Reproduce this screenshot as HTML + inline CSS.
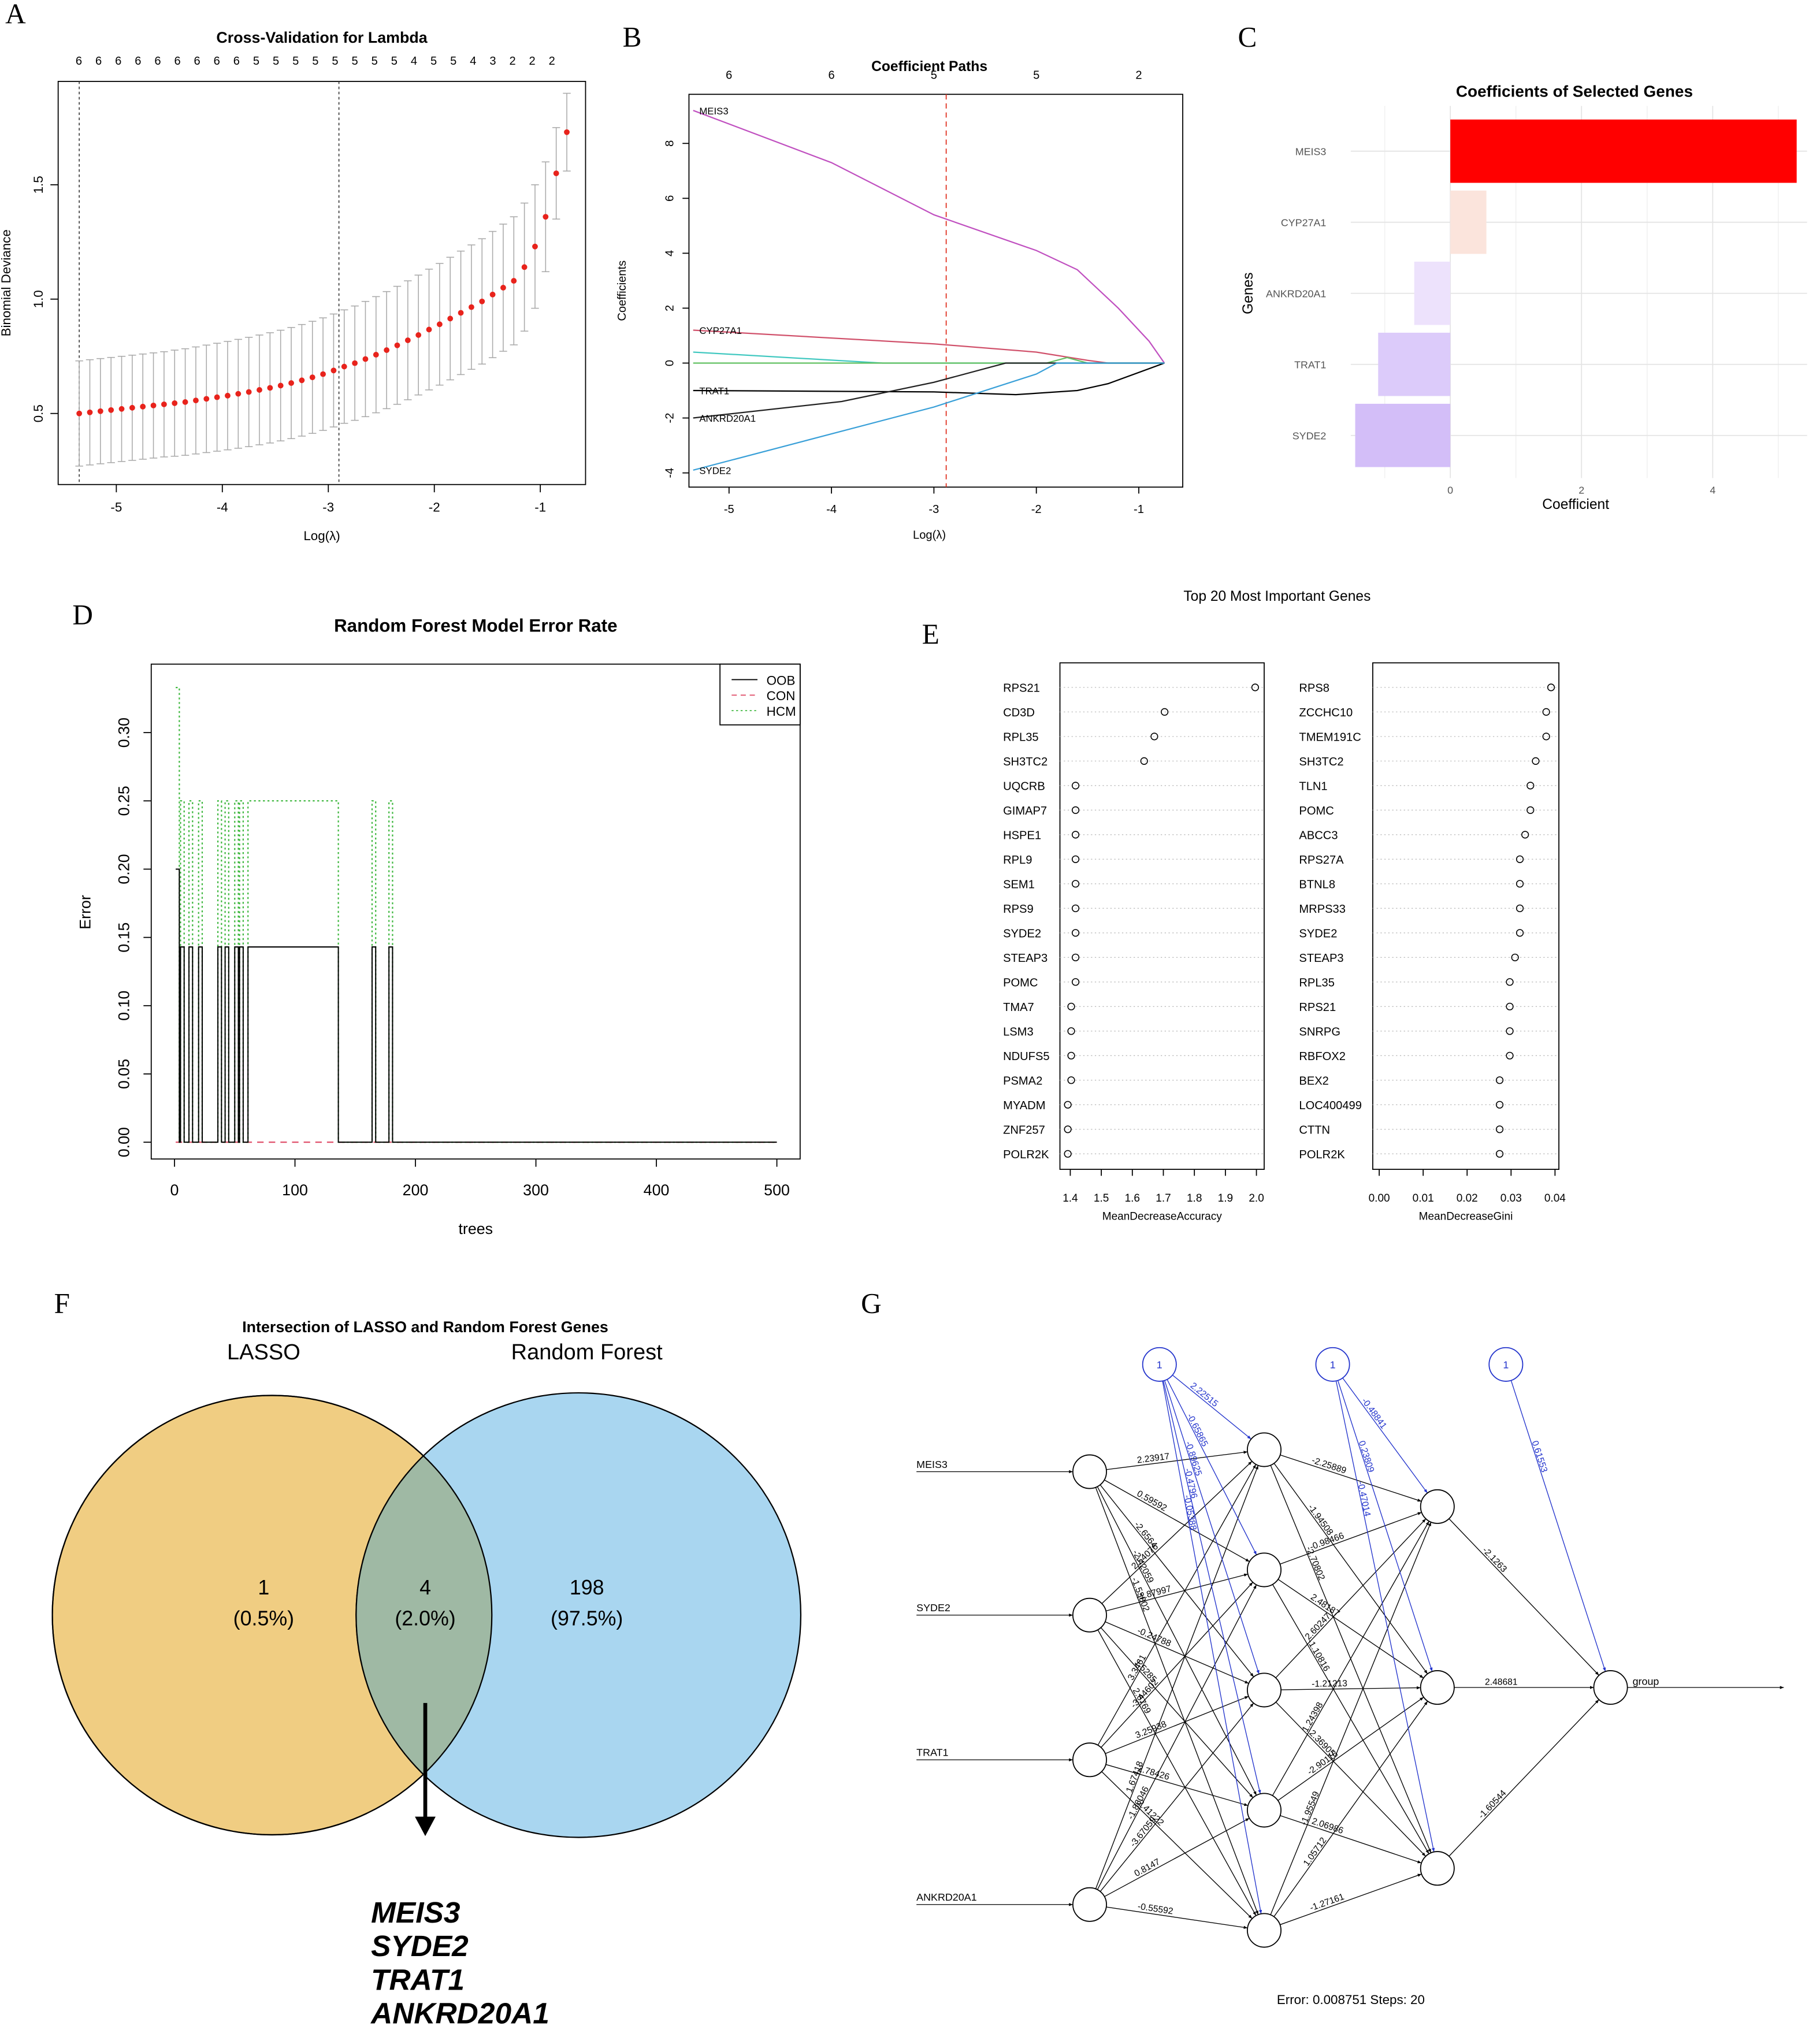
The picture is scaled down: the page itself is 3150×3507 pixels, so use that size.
<!DOCTYPE html>
<html><head><meta charset="utf-8">
<style>
html,body{margin:0;padding:0;background:#fff;}
svg{display:block;font-family:"Liberation Sans",Arial,sans-serif;}
</style></head>
<body>
<svg id="fig" xmlns="http://www.w3.org/2000/svg" width="3150" height="3507" viewBox="0 0 1408 1568" preserveAspectRatio="none">
<defs>
<marker id="arr" viewBox="0 0 10 10" refX="10" refY="5" markerWidth="5" markerHeight="5" orient="auto"><path d="M0,1 L10,5 L0,9 z" fill="#000"/></marker>
<marker id="arrb" viewBox="0 0 10 10" refX="10" refY="5" markerWidth="5" markerHeight="5" orient="auto"><path d="M0,1 L10,5 L0,9 z" fill="#2233cc"/></marker>
</defs>
</svg>
<script>
// ---------- Panel A data ----------
const cvLambda=[-5.35,-5.25,-5.15,-5.05,-4.95,-4.85,-4.75,-4.65,-4.55,-4.45,-4.35,-4.25,-4.15,-4.05,-3.95,-3.85,-3.75,-3.65,-3.55,-3.45,-3.35,-3.25,-3.15,-3.05,-2.95,-2.85,-2.75,-2.65,-2.55,-2.45,-2.35,-2.25,-2.15,-2.05,-1.95,-1.85,-1.75,-1.65,-1.55,-1.45,-1.35,-1.25,-1.15,-1.05,-0.95,-0.85,-0.75];
const cvMean=[0.50,0.505,0.51,0.515,0.52,0.525,0.53,0.535,0.54,0.545,0.55,0.557,0.564,0.571,0.578,0.586,0.594,0.603,0.612,0.622,0.633,0.645,0.658,0.672,0.688,0.705,0.72,0.738,0.757,0.777,0.798,0.82,0.843,0.867,0.89,0.915,0.94,0.965,0.99,1.02,1.05,1.08,1.14,1.23,1.36,1.55,1.73];
const cvSE=[0.23,0.23,0.23,0.23,0.23,0.23,0.23,0.23,0.23,0.232,0.233,0.234,0.235,0.236,0.237,0.238,0.239,0.24,0.241,0.242,0.243,0.244,0.245,0.246,0.247,0.248,0.25,0.252,0.254,0.256,0.258,0.26,0.262,0.264,0.266,0.268,0.27,0.272,0.274,0.276,0.278,0.28,0.28,0.27,0.24,0.2,0.17];
const cvTop=["6","6","6","6","6","6","6","6","6","5","5","5","5","5","5","5","5","4","5","5","4","3","2","2","2"];
const cvLines=[-5.35,-2.9];
// ---------- Panel B data ----------
const pathGenes=["MEIS3","CYP27A1","other1","other2","TRAT1","ANKRD20A1","SYDE2"];
const pathColors=["#c050c0","#d0506a","#40c8c0","#60c060","#000000","#222222","#3aa0d8"];
const pathLam=[[-5.35,-4,-3,-2,-1.6,-1.2,-0.9,-0.75],[-5.35,-3,-2,-1.5,-1.3,-0.75],[-5.35,-3.5,-0.75],[-5.35,-1.9,-1.7,-1.5,-0.75],[-5.35,-3,-2.2,-2.0,-1.6,-1.3,-0.75],[-5.35,-3.9,-3,-2.3,-0.75],[-5.35,-3,-2.0,-1.8,-0.75]];
const pathVal=[[9.2,7.3,5.4,4.1,3.4,2.0,0.8,0],[1.2,0.7,0.4,0.1,0,0],[0.4,0,0],[0,0,0.2,0,0],[-1.0,-1.05,-1.15,-1.1,-1.0,-0.75,0],[-2.0,-1.4,-0.7,0,0],[-3.9,-1.6,-0.4,0,0]];
const pathLabels=[["MEIS3",9.2],["CYP27A1",1.2],["TRAT1",-1.0],["ANKRD20A1",-2.0],["SYDE2",-3.9]];
const pathTop=["6","6","5","5","2"];
// ---------- Panel C data ----------
const coefGenes=["MEIS3","CYP27A1","ANKRD20A1","TRAT1","SYDE2"];
const coefVals=[5.28,0.55,-0.55,-1.1,-1.45];
const coefColors=["#ff0000","#fbe4dc","#ede2fc","#dccbfa","#d3bef8"];
// ---------- Panel D data ----------
const rfStartTrees=3;
const rfHighIntervals=[[5,7],[12,14],[20,22],[36,38],[42,44],[50,52],[54,56],[61,135],[164,166],[178,180]];
const oobStart=0.2, oobHigh=0.143, hcmStart=0.333, hcmHigh=0.25;
// ---------- Panel E data ----------
const accGenes=["RPS21","CD3D","RPL35","SH3TC2","UQCRB","GIMAP7","HSPE1","RPL9","SEM1","RPS9","SYDE2","STEAP3","POMC","TMA7","LSM3","NDUFS5","PSMA2","MYADM","ZNF257","POLR2K"];
const accVals=[1.996,1.704,1.671,1.638,1.417,1.417,1.417,1.417,1.417,1.417,1.417,1.417,1.417,1.403,1.403,1.403,1.403,1.392,1.392,1.392];
const giniGenes=["RPS8","ZCCHC10","TMEM191C","SH3TC2","TLN1","POMC","ABCC3","RPS27A","BTNL8","MRPS33","SYDE2","STEAP3","RPL35","RPS21","SNRPG","RBFOX2","BEX2","LOC400499","CTTN","POLR2K"];
const giniVals=[0.0391,0.038,0.038,0.0356,0.0344,0.0344,0.0332,0.032,0.032,0.032,0.032,0.0309,0.0297,0.0297,0.0297,0.0297,0.0274,0.0274,0.0274,0.0274];
const accTicks=["1.4","1.5","1.6","1.7","1.8","1.9","2.0"];
const giniTicks=["0.00","0.01","0.02","0.03","0.04"];
// ---------- Panel F data ----------
const vennCounts=["1","4","198"];
const vennPct=["(0.5%)","(2.0%)","(97.5%)"];
const vennGenes=["MEIS3","SYDE2","TRAT1","ANKRD20A1"];
// ---------- Panel G data ----------
const nnInputs=["MEIS3","SYDE2","TRAT1","ANKRD20A1"];
const wInH1=[[2.23917,0.59592,-2.6564,-2.42059,-1.53802],[2.54076,-1.87997,-0.24788,1.5285,2.6769],[3.3461,-3.44602,3.25938,2.78426,-2.41222],[1.67418,-1.86046,-3.67059,0.8147,-0.55592]];
const wH1H2=[[-2.25889,-1.94508,-2.70802],[-0.98466,2.48187,-1.10816],[2.60247,-1.21213,2.36905],[1.24398,-2.90116,2.06986],[-1.95549,1.05712,-1.27161]];
const wH2Out=[-2.1263,2.48681,-1.60544];
const bH1=[2.22515,-0.65865,-0.89625,-0.4796,-0.05388];
const bH2=[-0.48841,0.23809,-0.47014];
const bOut=[0.61553];
const nnError="0.008751", nnSteps="20";

const NS="http://www.w3.org/2000/svg";
const svg=document.getElementById('fig');
function mk(tag,a,name,p){const e=document.createElementNS(NS,tag);for(const k in a)e.setAttribute(k,a[k]);


(p||svg).appendChild(e);return e;}
function tx(x,y,s,size,name,extra){const e=mk('text',Object.assign({x:x,y:y,'font-size':size,'text-anchor':'middle'},extra||{}),name);e.textContent=s;return e;}
function line(x1,y1,x2,y2,name,extra){return mk('line',Object.assign({x1:x1,y1:y1,x2:x2,y2:y2,stroke:'#000','stroke-width':0.8},extra||{}),name);}
const serif={'font-family':'"Liberation Serif",serif'};
[["A",12,18],["B",489,36],["C",965,36],["D",64,483],["E",720,498],["F",48,1016],["G",674,1016]].forEach(l=>tx(l[1],l[2],l[0],22,'panel-label-'+l[0].toLowerCase(),serif));

// ===== Panel A =====
const xA=v=>90+(v+5)*82, yA=v=>320-(v-0.5)*177;
mk('rect',{x:45,y:63,width:408,height:312,fill:'none',stroke:'#000','stroke-width':0.8},'cv-plot-frame');
tx(249,33,"Cross-Validation for Lambda",12,'cv-title',{'font-weight':'bold'});
cvTop.forEach((s,i)=>tx(61+i*15.25,50,s,9,'cv-top-count'));
[-5,-4,-3,-2,-1].forEach(v=>{line(xA(v),375,xA(v),381,'cv-x-tick');tx(xA(v),396,String(v),10,'cv-x-tick-label');});
[0.5,1.0,1.5].forEach(v=>{line(39,yA(v),45,yA(v),'cv-y-tick');tx(33,yA(v),v.toFixed(1),10,'cv-y-tick-label',{transform:`rotate(-90 33 ${yA(v)})`});});
tx(249,418,"Log(λ)",10,'cv-x-title');
tx(8,219,"Binomial Deviance",10,'cv-y-title',{transform:'rotate(-90 8 219)'});
cvLines.forEach(v=>line(xA(v),63,xA(v),375,'cv-lambda-line',{'stroke-dasharray':'2,2',stroke:'#444'}));
cvLambda.forEach((l,i)=>{const x=xA(l),lo=yA(cvMean[i]-cvSE[i]),hi=yA(cvMean[i]+cvSE[i]);
line(x,lo,x,hi,'cv-error-bar',{stroke:'#aaa','stroke-width':0.7});
line(x-3,lo,x+3,lo,'cv-error-cap',{stroke:'#aaa','stroke-width':0.7});
line(x-3,hi,x+3,hi,'cv-error-cap',{stroke:'#aaa','stroke-width':0.7});});
cvLambda.forEach((l,i)=>mk('circle',{cx:xA(l),cy:yA(cvMean[i]),r:2.2,fill:'#e8231c'},'cv-point'));

// ===== Panel B =====
const xB=v=>564+(v+5)*79.25, yB=v=>281-v*21.25;
mk('rect',{x:533,y:73,width:382,height:304,fill:'none',stroke:'#000','stroke-width':0.8},'coef-path-frame');
tx(719,55,"Coefficient Paths",11,'coef-path-title',{'font-weight':'bold'});
pathTop.forEach((s,i)=>tx(xB(-5+i),61,s,9,'coef-path-top-count'));
[-5,-4,-3,-2,-1].forEach(v=>{line(xB(v),377,xB(v),382,'coef-x-tick');tx(xB(v),397,String(v),9,'coef-x-tick-label');});
[-4,-2,0,2,4,6,8].forEach(v=>{line(528,yB(v),533,yB(v),'coef-y-tick');tx(521,yB(v),String(v),9,'coef-y-tick-label',{transform:`rotate(-90 521 ${yB(v)})`});});
tx(719,417,"Log(λ)",9,'coef-x-title');
tx(484,225,"Coefficients",9,'coef-y-title',{transform:'rotate(-90 484 225)'});
line(732,73,732,377,'coef-lambda-line',{stroke:'#e03020','stroke-dasharray':'4,3'});
pathGenes.forEach((g,i)=>{const d=pathLam[i].map((l,j)=>(j?'L':'M')+xB(l)+','+yB(pathVal[i][j])).join(' ');
mk('path',{d:d,fill:'none',stroke:pathColors[i],'stroke-width':1},'coef-path-'+g.toLowerCase());});
pathLabels.forEach(p=>tx(541,yB(p[1])+3,p[0],7.5,'coef-path-label',{'text-anchor':'start'}));

// ===== Panel C =====
const xC=v=>1122+v*50.75;
const cyC=i=>117+i*55;
tx(1218,75,"Coefficients of Selected Genes",12.5,'coef-bar-title',{'font-weight':'bold'});
[-1,1,3,5].forEach(v=>line(xC(v),82,xC(v),370,'coef-minor-grid',{stroke:'#f2f2f2'}));
[0,2,4].forEach(v=>line(xC(v),82,xC(v),370,'coef-major-grid',{stroke:'#e4e4e4'}));
coefGenes.forEach((g,i)=>line(1045,cyC(i),1398,cyC(i),'coef-row-grid',{stroke:'#e4e4e4'}));
coefGenes.forEach((g,i)=>{const v=coefVals[i];
mk('rect',{x:Math.min(xC(0),xC(v)),y:cyC(i)-24.5,width:Math.abs(xC(v)-xC(0)),height:49,fill:coefColors[i]},'coef-bar-'+g.toLowerCase());
tx(1026,cyC(i)+3,g,8,'coef-gene-label',{'text-anchor':'end',fill:'#555'});});
[0,2,4].forEach(v=>tx(xC(v),382,String(v),8,'coef-x-tick-label',{fill:'#555'}));
tx(1219,394,"Coefficient",11,'coef-x-title');
tx(969,227,"Genes",11,'coef-y-title',{transform:'rotate(-90 969 227)'});

// ===== Panel D =====
const xD=t=>135+t*0.932, yD=e=>884-e*1056.7;
mk('rect',{x:117,y:514,width:502,height:383,fill:'none',stroke:'#000','stroke-width':0.8},'rf-plot-frame');
tx(368,489,"Random Forest Model Error Rate",14,'rf-title',{'font-weight':'bold'});
[0,100,200,300,400,500].forEach(v=>{line(xD(v),897,xD(v),903,'rf-x-tick');tx(xD(v),925,String(v),12,'rf-x-tick-label');});
[0,0.05,0.10,0.15,0.20,0.25,0.30].forEach(v=>{line(111,yD(v),117,yD(v),'rf-y-tick');tx(100,yD(v),v.toFixed(2),12,'rf-y-tick-label',{transform:`rotate(-90 100 ${yD(v)})`});});
tx(368,955,"trees",12,'rf-x-title');
tx(70,706,"Error",12,'rf-y-title',{transform:'rotate(-90 70 706)'});
function rfVal(t,start,high){if(t<=rfStartTrees)return start;for(const iv of rfHighIntervals)if(t>=iv[0]&&t<=iv[1])return high;return 0;}
function stepPath(start,high){let d='',prev=null;for(let t=1;t<=500;t++){const v=rfVal(t,start,high);if(t===1)d+='M'+xD(t)+','+yD(v);else{if(v!==prev)d+=' L'+xD(t)+','+yD(prev)+' L'+xD(t)+','+yD(v);}prev=v;}d+=' L'+xD(500)+','+yD(prev);return d;}
mk('path',{d:'M'+xD(1)+','+yD(0)+' L'+xD(500)+','+yD(0),fill:'none',stroke:'#e0506a','stroke-width':1,'stroke-dasharray':'5,4'},'rf-con-line');
mk('path',{d:stepPath(hcmStart,hcmHigh),fill:'none',stroke:'#40b840','stroke-width':1,'stroke-dasharray':'1.5,2'},'rf-hcm-line');
mk('path',{d:stepPath(oobStart,oobHigh),fill:'none',stroke:'#000','stroke-width':0.9},'rf-oob-line');
mk('rect',{x:557,y:514,width:62,height:47,fill:'#fff',stroke:'#000','stroke-width':0.8},'rf-legend-box');
[["OOB",'#000',''],["CON",'#e0506a','4,3'],["HCM",'#40b840','1.5,2']].forEach((l,i)=>{const y=526+i*12;
line(566,y,586,y,'rf-legend-swatch',{stroke:l[1],'stroke-dasharray':l[2]});tx(593,y+4,l[0],10,'rf-legend-label',{'text-anchor':'start'});});

// ===== Panel E =====
tx(988,465,"Top 20 Most Important Genes",11,'importance-title');
const rowY=i=>532+i*19;
function dotchart(genes,vals,bx,bw,labX,xf,ticks,tickVals,title,pref){
mk('rect',{x:bx,y:513,width:bw,height:392,fill:'none',stroke:'#000','stroke-width':0.8},pref+'-frame');
genes.forEach((g,i)=>{line(bx,rowY(i),bx+bw,rowY(i),pref+'-row-guide',{stroke:'#bbb','stroke-dasharray':'1,2','stroke-width':0.6});
tx(labX,rowY(i)+3.5,g,9,pref+'-gene-label',{'text-anchor':'start'});
mk('circle',{cx:xf(vals[i]),cy:rowY(i),r:2.6,fill:'none',stroke:'#000','stroke-width':0.7},pref+'-point');});
ticks.forEach((s,i)=>{line(xf(tickVals[i]),905,xf(tickVals[i]),910,pref+'-tick');tx(xf(tickVals[i]),930,s,8.5,pref+'-tick-label');});
tx(bx+bw/2,944,title,8.5,pref+'-x-title');}
const xAcc=v=>828+(v-1.4)*240, xGini=v=>1067+v*3400;
dotchart(accGenes,accVals,820,158,776,xAcc,accTicks,accTicks.map(Number),"MeanDecreaseAccuracy",'accuracy');
dotchart(giniGenes,giniVals,1062,144,1005,xGini,giniTicks,giniTicks.map(Number),"MeanDecreaseGini",'gini');

// ===== Panel F =====
tx(329,1031,"Intersection of LASSO and Random Forest Genes",12,'venn-title',{'font-weight':'bold'});
tx(204,1052,"LASSO",17,'venn-set-label-lasso');
tx(454,1052,"Random Forest",17,'venn-set-label-rf');
mk('circle',{cx:210.5,cy:1250,r:170,fill:'#f0cd82',stroke:'#000','stroke-width':1},'venn-lasso-circle');
mk('circle',{cx:447.5,cy:1250,r:172,fill:'#a9d6f0',stroke:'#000','stroke-width':1},'venn-rf-circle');
const cp=mk('clipPath',{id:'clipL'},'venn-clip');mk('circle',{cx:210.5,cy:1250,r:170},'venn-clip-circle',cp);
mk('circle',{cx:447.5,cy:1250,r:172,fill:'#9fb9a4',stroke:'#000','stroke-width':1,'clip-path':'url(#clipL)'},'venn-intersection');
mk('circle',{cx:210.5,cy:1250,r:170,fill:'none',stroke:'#000','stroke-width':1},'venn-lasso-outline');
[204,329,454].forEach((x,i)=>{tx(x,1234,vennCounts[i],16,'venn-count');tx(x,1258,vennPct[i],16,'venn-percent');});
line(329,1318,329,1408,'venn-arrow-shaft',{'stroke-width':3});
mk('path',{d:'M321,1406 L337,1406 L329,1421 z',fill:'#000'},'venn-arrow-head');
vennGenes.forEach((g,i)=>tx(287,1488+i*26,g,23,'venn-gene-'+g.toLowerCase(),{'text-anchor':'start','font-weight':'bold','font-style':'italic'}));

// ===== Panel G =====
const inY=[1139,1250,1362,1474], h1Y=[1122,1215,1308,1401,1494], h2Y=[1166,1306,1446];
const inX=843,h1X=978,h2X=1112,outX=1246,outY=1306,R=13;
const biasPos=[[897,1056],[1031,1056],[1165,1056]];
function edge(x1,y1,x2,y2,w,blue,name){const dx=x2-x1,dy=y2-y1,L=Math.hypot(dx,dy);
const sx=x1+dx/L*R,sy=y1+dy/L*R,ex=x2-dx/L*R,ey=y2-dy/L*R;
line(sx,sy,ex,ey,name,{stroke:blue?'#2233cc':'#000','stroke-width':0.6,'marker-end':blue?'url(#arrb)':'url(#arr)'});
const t=0.22,lx=sx+(ex-sx)*t,ly=sy+(ey-sy)*t-2;const ang=Math.atan2(dy,dx)*180/Math.PI;
tx(lx,ly,String(w),7,name+'-weight',{'text-anchor':'start',fill:blue?'#2233cc':'#000',transform:`rotate(${ang} ${lx} ${ly})`});}
nnInputs.forEach((n,i)=>{line(709,inY[i],inX-R,inY[i],'nn-input-arrow',{'stroke-width':0.6,'marker-end':'url(#arr)'});tx(709,inY[i]-3,n,8,'nn-input-label',{'text-anchor':'start'});
wInH1[i].forEach((w,j)=>edge(inX,inY[i],h1X,h1Y[j],w,false,'nn-edge-input-hidden1'));});
wH1H2.forEach((row,i)=>row.forEach((w,j)=>edge(h1X,h1Y[i],h2X,h2Y[j],w,false,'nn-edge-hidden1-hidden2')));
wH2Out.forEach((w,j)=>edge(h2X,h2Y[j],outX,outY,w,false,'nn-edge-hidden2-output'));
bH1.forEach((w,j)=>edge(biasPos[0][0],biasPos[0][1],h1X,h1Y[j],w,true,'nn-bias-edge-hidden1'));
bH2.forEach((w,j)=>edge(biasPos[1][0],biasPos[1][1],h2X,h2Y[j],w,true,'nn-bias-edge-hidden2'));
bOut.forEach((w)=>edge(biasPos[2][0],biasPos[2][1],outX,outY,w,true,'nn-bias-edge-output'));
line(outX+R,outY,1380,outY,'nn-output-arrow',{'stroke-width':0.6,'marker-end':'url(#arr)'});
tx(1263,outY-2,"group",8,'nn-output-label',{'text-anchor':'start'});
inY.forEach(y=>mk('circle',{cx:inX,cy:y,r:R,fill:'#fff',stroke:'#000','stroke-width':0.8},'nn-input-node'));
h1Y.forEach(y=>mk('circle',{cx:h1X,cy:y,r:R,fill:'#fff',stroke:'#000','stroke-width':0.8},'nn-hidden1-node'));
h2Y.forEach(y=>mk('circle',{cx:h2X,cy:y,r:R,fill:'#fff',stroke:'#000','stroke-width':0.8},'nn-hidden2-node'));
mk('circle',{cx:outX,cy:outY,r:R,fill:'#fff',stroke:'#000','stroke-width':0.8},'nn-output-node');
biasPos.forEach(p=>{mk('circle',{cx:p[0],cy:p[1],r:R,fill:'#fff',stroke:'#2233cc','stroke-width':0.8},'nn-bias-node');tx(p[0],p[1]+3,"1",8,'nn-bias-label',{fill:'#2233cc'});});
tx(1045,1551,"Error: "+nnError+"   Steps: "+nnSteps,10,'nn-error-steps',{'xml:space':'preserve'});
</script>
</body></html>
